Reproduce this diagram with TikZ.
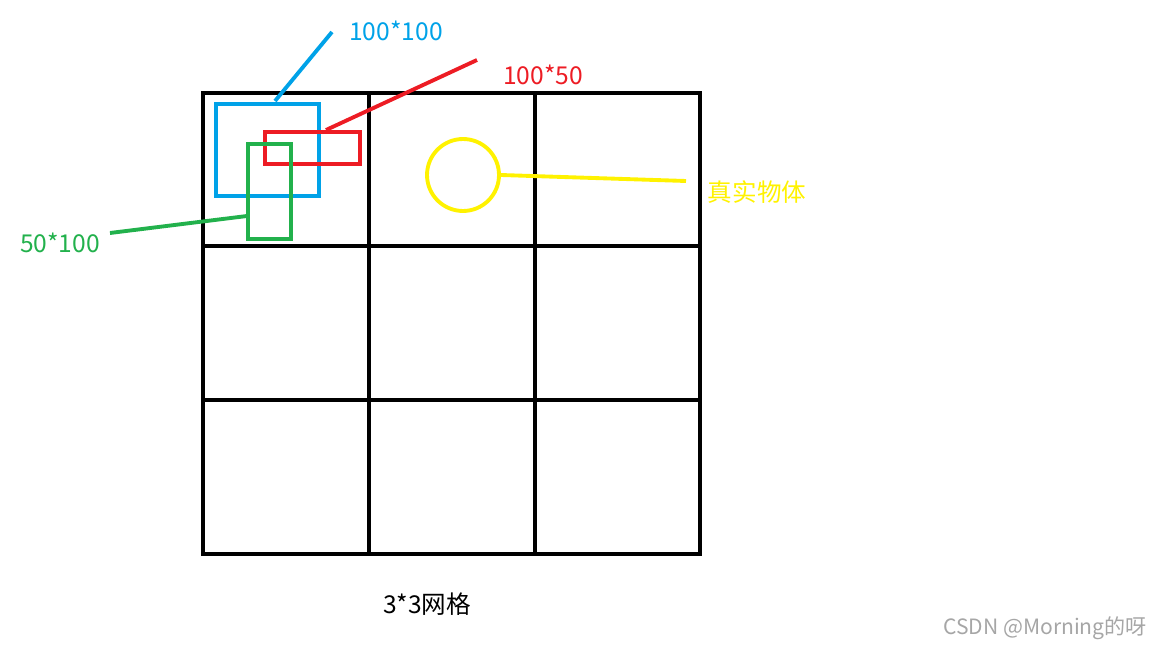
\documentclass[tikz,border=0pt]{standalone}
\usepackage{fontspec}
\setmainfont{Noto Sans CJK SC}
\usetikzlibrary{positioning}
\definecolor{bluebox}{RGB}{0,162,232}
\definecolor{redbox}{RGB}{237,28,36}
\definecolor{greenbox}{RGB}{34,177,76}
\definecolor{yellowobj}{RGB}{255,242,0}
\begin{document}
\begin{tikzpicture}[
  x=0.02cm, y=-0.02cm,
  font=\fontsize{14}{16}\selectfont,
  anchorbox/.style={draw, line width=2.2pt, inner sep=0pt},
  lead/.style={line width=2.2pt},
  tag/.style={inner sep=1pt, anchor=center}
]
\useasboundingbox (0,0) rectangle (1152,648);

% grid
\draw[line width=2.6pt] (203,93) rectangle (700,554);
\foreach \gx in {369,535} \draw[line width=2.6pt] (\gx,93) -- (\gx,554);
\foreach \gy in {246,400} \draw[line width=2.6pt] (203,\gy) -- (700,\gy);

% anchor boxes
\node[anchorbox, bluebox, minimum width=2.06cm, minimum height=1.84cm] (blue) at (267.5,150) {};
\node[anchorbox, redbox, minimum width=1.9cm, minimum height=0.64cm] (red) at (312.5,148) {};
\node[anchorbox, greenbox, minimum width=0.86cm, minimum height=1.9cm] (green) at (269.5,191.5) {};
\node[draw, yellowobj, line width=2.2pt, circle, minimum size=1.44cm, inner sep=0pt] (obj) at (463,175) {};

% labels
\node[tag, bluebox] (lblue) at (396,31) {100*100};
\node[tag, redbox] (lred) at (543,75) {100*50};
\node[tag, greenbox] (lgreen) at (60,243) {50*100};
\node[tag, yellowobj] (lobj) at (757,192) {真实物体};
\node[tag] (lgrid) at (427,604) {3*3网格};
\node[tag, black!35, font=\fontsize{12}{14}\selectfont] (mark) at (1045,628) {CSDN @Morning的呀};

% leaders
\coordinate (bend) at (332,32);
\coordinate (rend) at (477,60);
\coordinate (gend) at (110,233);
\coordinate (yend) at (686,181);
\draw[lead, bluebox] (275,101) -- (bend);
\draw[lead, redbox] (326,130) -- (rend);
\draw[lead, greenbox] (247,216) -- (gend);
\draw[lead, yellowobj] (obj.east) -- (yend);
\end{tikzpicture}
\end{document}
